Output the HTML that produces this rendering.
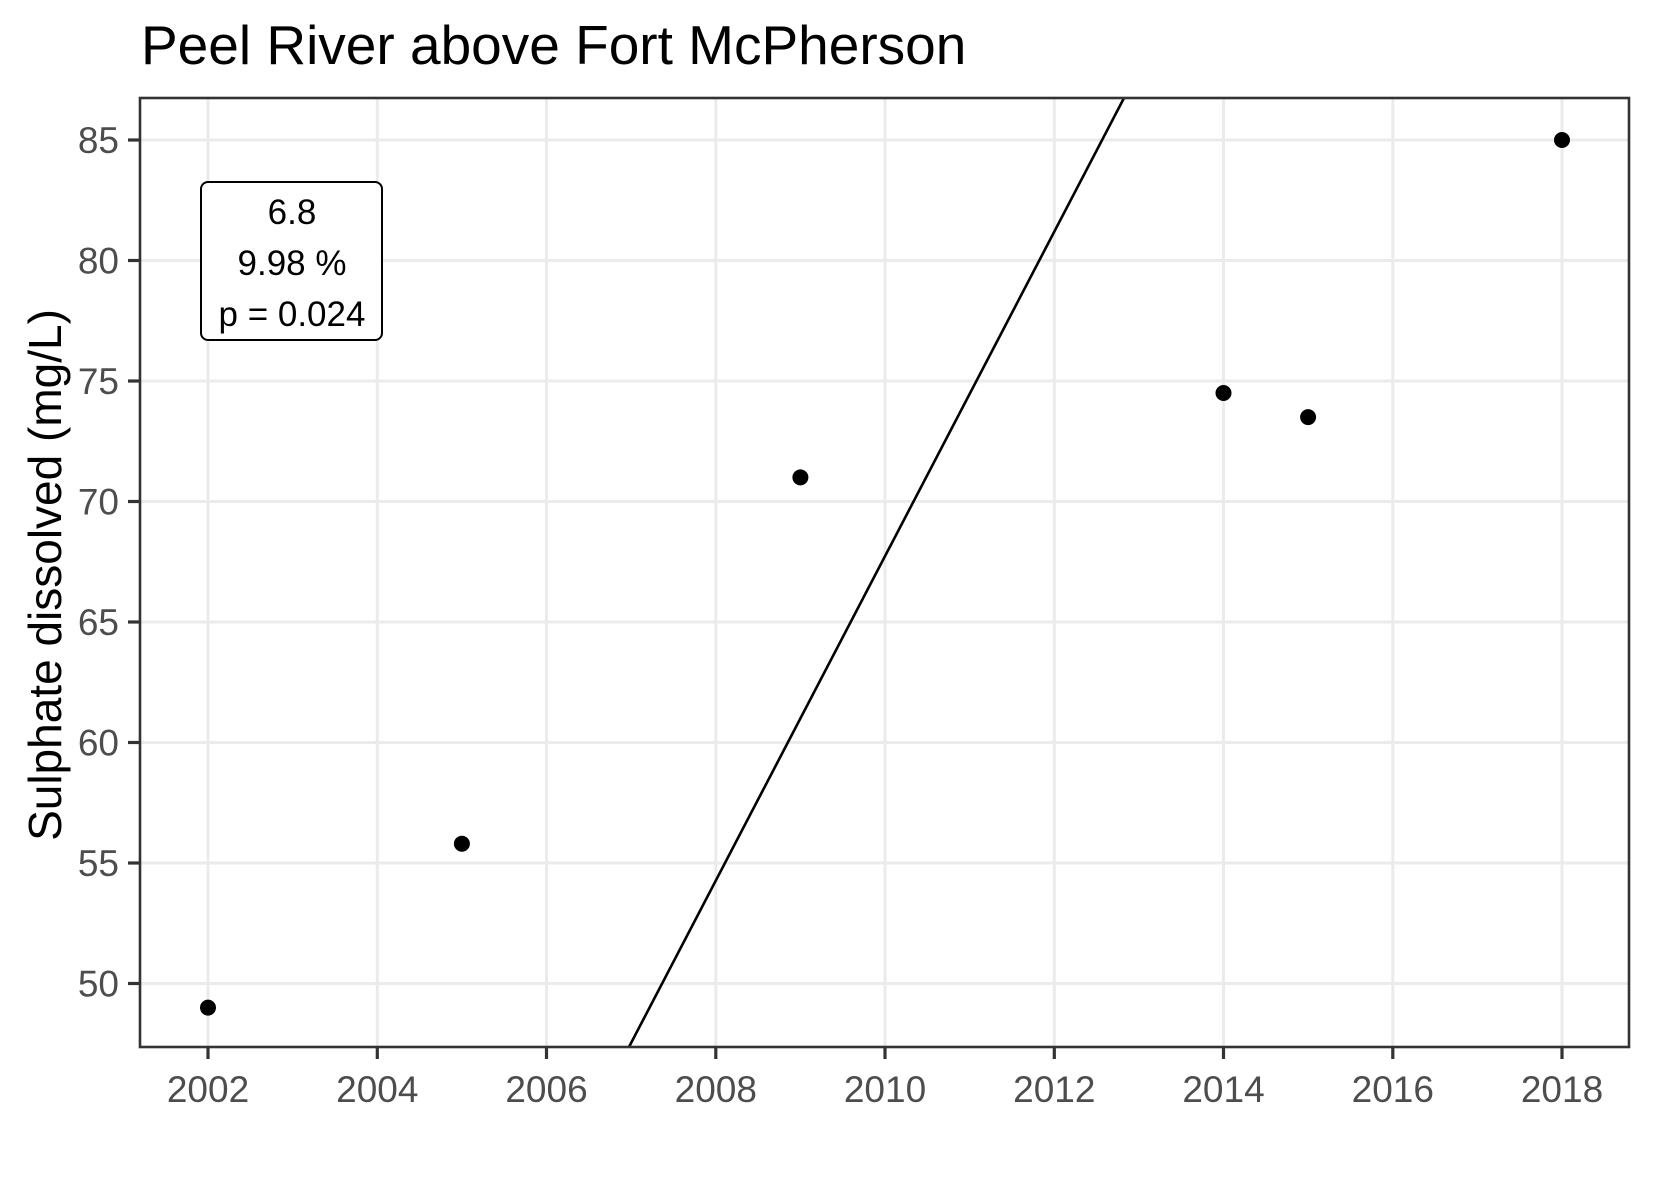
<!DOCTYPE html>
<html><head><meta charset="utf-8"><style>body{margin:0;background:#fff}svg{display:block}</style></head>
<body>
<svg width="1653" height="1181" xmlns="http://www.w3.org/2000/svg" font-family="Liberation Sans, sans-serif">
<rect width="1653" height="1181" fill="#fff"/>
<g stroke="#ebebeb" stroke-width="3">
<line x1="140" x2="1629" y1="140" y2="140"/><line x1="140" x2="1629" y1="260.5" y2="260.5"/>
<line x1="140" x2="1629" y1="381" y2="381"/><line x1="140" x2="1629" y1="501.5" y2="501.5"/>
<line x1="140" x2="1629" y1="622" y2="622"/><line x1="140" x2="1629" y1="742.5" y2="742.5"/>
<line x1="140" x2="1629" y1="863" y2="863"/><line x1="140" x2="1629" y1="983.5" y2="983.5"/>
<line y1="98" y2="1047" x1="208" x2="208"/><line y1="98" y2="1047" x1="377.3" x2="377.3"/>
<line y1="98" y2="1047" x1="546.5" x2="546.5"/><line y1="98" y2="1047" x1="715.8" x2="715.8"/>
<line y1="98" y2="1047" x1="885" x2="885"/><line y1="98" y2="1047" x1="1054.3" x2="1054.3"/>
<line y1="98" y2="1047" x1="1223.5" x2="1223.5"/><line y1="98" y2="1047" x1="1392.8" x2="1392.8"/>
<line y1="98" y2="1047" x1="1562" x2="1562"/>
</g>
<line x1="629" y1="1047" x2="1124" y2="98" stroke="#000" stroke-width="2.6"/>
<g fill="#000">
<circle cx="208" cy="1007.6" r="8"/><circle cx="461.9" cy="843.7" r="8"/><circle cx="800.4" cy="477.4" r="8"/>
<circle cx="1223.5" cy="393" r="8"/><circle cx="1308.1" cy="417.1" r="8"/><circle cx="1562" cy="140" r="8"/>
</g>
<rect x="201" y="182" width="181" height="158" rx="7" fill="#fff" stroke="#000" stroke-width="2"/>
<g font-size="35" text-anchor="middle" fill="#000">
<text x="292" y="224">6.8</text><text x="292" y="275">9.98 %</text><text x="292" y="326">p = 0.024</text>
</g>
<rect x="140" y="98" width="1489" height="949" fill="none" stroke="#333" stroke-width="2.6"/>
<g stroke="#333" stroke-width="3.2">
<line x1="128" x2="140" y1="140" y2="140"/><line x1="128" x2="140" y1="260.5" y2="260.5"/>
<line x1="128" x2="140" y1="381" y2="381"/><line x1="128" x2="140" y1="501.5" y2="501.5"/>
<line x1="128" x2="140" y1="622" y2="622"/><line x1="128" x2="140" y1="742.5" y2="742.5"/>
<line x1="128" x2="140" y1="863" y2="863"/><line x1="128" x2="140" y1="983.5" y2="983.5"/>
<line y1="1047" y2="1059" x1="208" x2="208"/><line y1="1047" y2="1059" x1="377.3" x2="377.3"/>
<line y1="1047" y2="1059" x1="546.5" x2="546.5"/><line y1="1047" y2="1059" x1="715.8" x2="715.8"/>
<line y1="1047" y2="1059" x1="885" x2="885"/><line y1="1047" y2="1059" x1="1054.3" x2="1054.3"/>
<line y1="1047" y2="1059" x1="1223.5" x2="1223.5"/><line y1="1047" y2="1059" x1="1392.8" x2="1392.8"/>
<line y1="1047" y2="1059" x1="1562" x2="1562"/>
</g>
<g font-size="37" fill="#4d4d4d" text-anchor="end">
<text x="119" y="153">85</text><text x="119" y="273.5">80</text><text x="119" y="394">75</text>
<text x="119" y="514.5">70</text><text x="119" y="635">65</text><text x="119" y="755.5">60</text>
<text x="119" y="876">55</text><text x="119" y="996.5">50</text>
</g>
<g font-size="37" fill="#4d4d4d" text-anchor="middle">
<text x="208" y="1102">2002</text><text x="377.3" y="1102">2004</text><text x="546.5" y="1102">2006</text>
<text x="715.8" y="1102">2008</text><text x="885" y="1102">2010</text><text x="1054.3" y="1102">2012</text>
<text x="1223.5" y="1102">2014</text><text x="1392.8" y="1102">2016</text><text x="1562" y="1102">2018</text>
</g>
<text transform="translate(61,575) rotate(-90)" font-size="46" text-anchor="middle" fill="#000">Sulphate dissolved (mg/L)</text>
<text x="141" y="64" font-size="55" fill="#000">Peel River above Fort McPherson</text>
</svg>
</body></html>
